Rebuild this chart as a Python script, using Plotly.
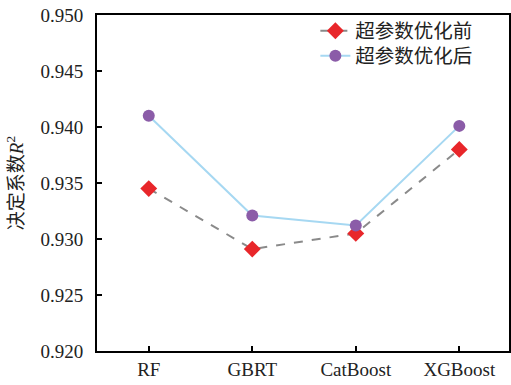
import plotly.graph_objects as go

categories = ["RF", "GBRT", "CatBoost", "XGBoost"]
before_opt = [0.9345, 0.9291, 0.9305, 0.9380]
after_opt = [0.9410, 0.9321, 0.9312, 0.9401]
series_names = ["超参数优化前", "超参数优化后"]
y_ticks = [0.920, 0.925, 0.930, 0.935, 0.940, 0.945, 0.950]

FONT = "'Liberation Serif', 'Times New Roman', 'Noto Sans CJK SC', serif"

fig = go.Figure()
fig.add_trace(go.Scatter(
    x=categories, y=before_opt, name=series_names[0], mode="lines+markers",
    line=dict(color="#8a8a8a", width=2, dash="dash"),
    marker=dict(symbol="diamond", size=13, color="#e8262a"),
    legend="legend",
))
fig.add_trace(go.Scatter(
    x=categories, y=after_opt, name=series_names[1], mode="lines+markers",
    line=dict(color="#a6d8f2", width=2),
    marker=dict(symbol="circle", size=12, color="#8b5ca8"),
    legend="legend2",
))

leg_common = dict(xanchor="left", yanchor="middle", bgcolor="rgba(0,0,0,0)",
                  font=dict(size=19.5, family=FONT), itemwidth=30)

fig.update_layout(
    width=511, height=385,
    margin=dict(l=97, r=0, t=15, b=34),
    plot_bgcolor="white", paper_bgcolor="white",
    font=dict(family=FONT, size=18, color="#222"),
    showlegend=True,
    legend=dict(x=0.53, y=0.952, **leg_common),
    legend2=dict(x=0.53, y=0.878, **leg_common),
    xaxis=dict(
        range=[-0.5, 3.48], showline=True, linecolor="black", linewidth=2,
        mirror=True, ticks="inside", ticklen=5, tickwidth=1.5, tickcolor="black",
        showgrid=False, zeroline=False, tickfont=dict(size=19),
    ),
    yaxis=dict(
        range=[0.920, 0.950], tickvals=y_ticks, tickformat=".3f",
        showline=True, linecolor="black", linewidth=2, mirror=True,
        ticks="inside", ticklen=5, tickwidth=1.5, tickcolor="black",
        showgrid=False, zeroline=False, tickfont=dict(size=19),
        ticklabelstandoff=8,
        title=dict(text="决定系数<i>R</i><sup>2</sup>", font=dict(size=19), standoff=12),
    ),
)

fig.write_html("out.html")
